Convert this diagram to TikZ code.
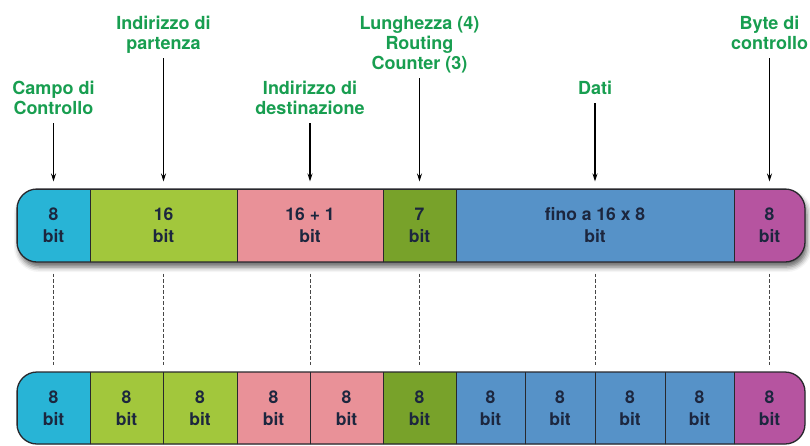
\documentclass[tikz,border=0pt]{standalone}
\usepackage{fontspec}
\setmainfont{TeX Gyre Heros}
\usetikzlibrary{arrows.meta,shadows.blur}
\definecolor{labgreen}{RGB}{24,158,80}
\definecolor{txtc}{RGB}{28,38,62}
\definecolor{ccyan}{RGB}{40,180,214}
\definecolor{cgreen}{RGB}{162,199,60}
\definecolor{cpink}{RGB}{233,145,152}
\definecolor{colive}{RGB}{120,162,42}
\definecolor{cblue}{RGB}{86,146,200}
\definecolor{cmag}{RGB}{182,84,160}
\definecolor{outl}{RGB}{40,40,45}
\begin{document}
\begin{tikzpicture}[x=1pt,y=-1pt,
  lab/.style={text=labgreen, font=\fontsize{18}{20}\selectfont\bfseries, align=center, inner sep=0pt, anchor=south},
  cell/.style={draw=outl, line width=1pt, minimum height=73pt, inner sep=0pt, text=txtc, font=\fontsize{17.5}{22}\selectfont\bfseries, align=center},
  ptr/.style={-{Stealth[length=8pt,width=5pt]}, line width=1.2pt, black, shorten <=2pt, shorten >=7pt},
  guide/.style={dash pattern=on 3.5pt off 2pt, black!72, line width=1pt, shorten <=11pt, shorten >=5pt},
  barshape/.style={rounded corners=20pt},
  barline/.style={draw=outl, line width=1.3pt, rounded corners=20pt},
]
\useasboundingbox (0,0) rectangle (810,445);

% ---------- top bar ----------
\path[fill=white, blur shadow={shadow xshift=2pt, shadow yshift=-5pt, shadow blur radius=5pt, shadow opacity=60}, barshape] (17,189) rectangle (805,262);
\begin{scope}
\clip[barshape] (17,189) rectangle (805,262);
\node[cell, fill=ccyan,  minimum width=73pt]  (t1) at (53.5,225.5)  {8\\bit};
\node[cell, fill=cgreen, minimum width=147pt] (t2) at (163.5,225.5) {16\\bit};
\node[cell, fill=cpink,  minimum width=146pt] (t3) at (310,225.5)   {16 + 1\\bit};
\node[cell, fill=colive, minimum width=73pt]  (t4) at (419.5,225.5) {7\\bit};
\node[cell, fill=cblue,  minimum width=278pt] (t5) at (595,225.5)   {fino a 16 x 8\\bit};
\node[cell, fill=cmag,   minimum width=71pt]  (t6) at (769.5,225.5) {8\\bit};
\end{scope}
\path[barline] (17,189) rectangle (805,262);

% ---------- bottom bar ----------
\begin{scope}
\clip[barshape] (17,372) rectangle (805,444);
\node[cell, fill=ccyan,  minimum width=73pt]   (b1)  at (53.5,408)  {8\\bit};
\node[cell, fill=cgreen, minimum width=73pt]   (b2)  at (126.5,408) {8\\bit};
\node[cell, fill=cgreen, minimum width=74pt]   (b3)  at (200,408)   {8\\bit};
\node[cell, fill=cpink,  minimum width=73pt]   (b4)  at (273.5,408) {8\\bit};
\node[cell, fill=cpink,  minimum width=73pt]   (b5)  at (346.5,408) {8\\bit};
\node[cell, fill=colive, minimum width=73pt]   (b6)  at (419.5,408) {8\\bit};
\node[cell, fill=cblue,  minimum width=69pt]   (b7)  at (490.5,408) {8\\bit};
\node[cell, fill=cblue,  minimum width=70pt]   (b8)  at (560,408)   {8\\bit};
\node[cell, fill=cblue,  minimum width=70pt]   (b9)  at (630,408)   {8\\bit};
\node[cell, fill=cblue,  minimum width=69pt]   (b10) at (699.5,408) {8\\bit};
\node[cell, fill=cmag,   minimum width=71pt]   (b11) at (769.5,408) {8\\bit};
\end{scope}
\path[barline] (17,372) rectangle (805,444);

% ---------- labels ----------
\node[lab] (l1) at (53.5,121)  {Campo di\\Controllo\strut};
\node[lab] (l2) at (163.5,56)  {Indirizzo di\\partenza\strut};
\node[lab] (l3) at (310,121)   {Indirizzo di\\destinazione\strut};
\node[lab] (l4) at (419.5,76)  {Lunghezza (4)\\Routing\\Counter (3)\strut};
\node[lab] (l5) at (595,101)   {Dati\strut};
\node[lab] (l6) at (769.5,56)  {Byte di\\controllo\strut};

% ---------- arrows ----------
\draw[ptr] (l1.south) -- (l1.south |- t1.north);
\draw[ptr] (l2.south) -- (l2.south |- t2.north);
\draw[ptr] (l3.south) -- (l3.south |- t3.north);
\draw[ptr] (l4.south) -- (l4.south |- t4.north);
\draw[ptr] (l5.south) -- (l5.south |- t5.north);
\draw[ptr] (l6.south) -- (l6.south |- t6.north);

% ---------- dashed guides ----------
\draw[guide] (t1.south) -- (t1.south |- b1.north);
\draw[guide] (t2.south) -- (t2.south |- b2.north);
\draw[guide] (t3.south) -- (t3.south |- b4.north);
\draw[guide] (t4.south) -- (t4.south |- b6.north);
\draw[guide] (t5.south) -- (t5.south |- b8.north);
\draw[guide] (t6.south) -- (t6.south |- b11.north);
\end{tikzpicture}
\end{document}
